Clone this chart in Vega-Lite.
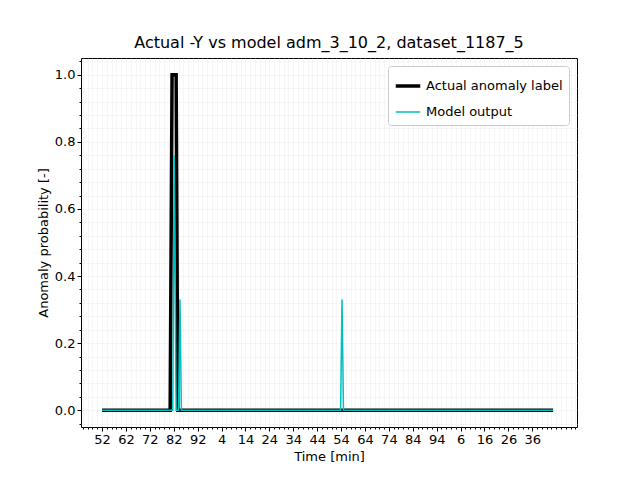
{
  "$schema": "https://vega.github.io/schema/vega-lite/v6.json",
  "width": 496,
  "height": 369,
  "autosize": "none",
  "padding": {"left": 81, "top": 58, "right": 63, "bottom": 53},
  "title": {"text": "Actual -Y vs model adm_3_10_2, dataset_1187_5", "font": "DejaVu Sans", "fontSize": 16, "fontWeight": "normal", "offset": 7},
  "config": {
    "view": {"stroke": "black", "strokeWidth": 1},
    "axis": {"labelFont": "DejaVu Sans", "titleFont": "DejaVu Sans", "labelFontSize": 13, "titleFontSize": 13, "titleFontWeight": "normal", "domain": false, "tickColor": "black", "labelColor": "black", "titleColor": "black"}
  },
  "data": {"values": [
    {"t": 0, "v": 0, "s": "Actual anomaly label"},
    {"t": 28.5, "v": 0, "s": "Actual anomaly label"},
    {"t": 29.3, "v": 1, "s": "Actual anomaly label"},
    {"t": 31, "v": 1, "s": "Actual anomaly label"},
    {"t": 31.7, "v": 0, "s": "Actual anomaly label"},
    {"t": 188.7, "v": 0, "s": "Actual anomaly label"},
    {"t": 0, "v": 0, "s": "Model output"},
    {"t": 29.6, "v": 0, "s": "Model output"},
    {"t": 30.2, "v": 0.76, "s": "Model output"},
    {"t": 31, "v": 0, "s": "Model output"},
    {"t": 32, "v": 0, "s": "Model output"},
    {"t": 32.6, "v": 0.33, "s": "Model output"},
    {"t": 33.2, "v": 0, "s": "Model output"},
    {"t": 99.8, "v": 0, "s": "Model output"},
    {"t": 100.4, "v": 0.33, "s": "Model output"},
    {"t": 101, "v": 0, "s": "Model output"},
    {"t": 188.7, "v": 0, "s": "Model output"}
  ]},
  "resolve": {"axis": {"x": "independent", "y": "independent"}},
  "layer": [
    {
      "mark": {"type": "line", "opacity": 0},
      "encoding": {
        "x": {"field": "t", "type": "quantitative", "scale": {"domain": [-8.8, 198.7], "nice": false, "zero": false},
          "axis": {"orient": "bottom", "values": [-8,-6,-4,-2,0,2,4,6,8,10,12,14,16,18,20,22,24,26,28,30,32,34,36,38,40,42,44,46,48,50,52,54,56,58,60,62,64,66,68,70,72,74,76,78,80,82,84,86,88,90,92,94,96,98,100,102,104,106,108,110,112,114,116,118,120,122,124,126,128,130,132,134,136,138,140,142,144,146,148,150,152,154,156,158,160,162,164,166,168,170,172,174,176,178,180,182,184,186,188,190,192,194,196,198], "labels": false, "tickSize": 2, "gridColor": "#ececec", "gridWidth": 0.5, "title": null}},
        "y": {"field": "v", "type": "quantitative", "scale": {"domain": [-0.05, 1.05], "nice": false},
          "axis": {"orient": "left", "values": [-0.04,0,0.04,0.08,0.12,0.16,0.2,0.24,0.28,0.32,0.36,0.4,0.44,0.48,0.52,0.56,0.6,0.64,0.68,0.72,0.76,0.8,0.84,0.88,0.92,0.96,1,1.04], "labels": false, "tickSize": 2, "gridColor": "#ececec", "gridWidth": 0.5, "title": null}},
        "detail": {"field": "s"}
      }
    },
    {
      "mark": {"type": "line"},
      "encoding": {
        "x": {"field": "t", "type": "quantitative", "scale": {"domain": [-8.8, 198.7], "nice": false, "zero": false},
          "axis": {"orient": "bottom", "values": [0,10,20,30,40,50,60,70,80,90,100,110,120,130,140,150,160,170,180], "labelExpr": "['52','62','72','82','92','4','14','24','34','44','54','64','74','84','94','6','16','26','36'][round(datum.value/10)]", "gridColor": "#c8c8c8", "gridWidth": 0.8, "tickSize": 4, "title": "Time [min]"}},
        "y": {"field": "v", "type": "quantitative", "scale": {"domain": [-0.05, 1.05], "nice": false},
          "axis": {"orient": "left", "values": [0,0.2,0.4,0.6,0.8,1], "format": ".1f", "gridColor": "#c8c8c8", "gridWidth": 0.8, "tickSize": 4, "title": "Anomaly probability [-]"}},
        "color": {"field": "s", "type": "nominal", "scale": {"domain": ["Actual anomaly label", "Model output"], "range": ["black", "#00bfbf"]},
          "legend": {"title": null, "orient": "top-right", "offset": 8, "strokeColor": "#cccccc", "fillColor": "white", "padding": 6, "cornerRadius": 3, "labelFont": "DejaVu Sans", "labelFontSize": 13, "rowPadding": 6, "symbolType": "stroke", "symbolSize": 600, "symbolStrokeWidth": 3}},
        "strokeWidth": {"field": "s", "type": "nominal", "scale": {"domain": ["Actual anomaly label", "Model output"], "range": [3.5, 1.5]}, "legend": null},
        "order": {"field": "t", "type": "quantitative"}
      }
    }
  ]
}
